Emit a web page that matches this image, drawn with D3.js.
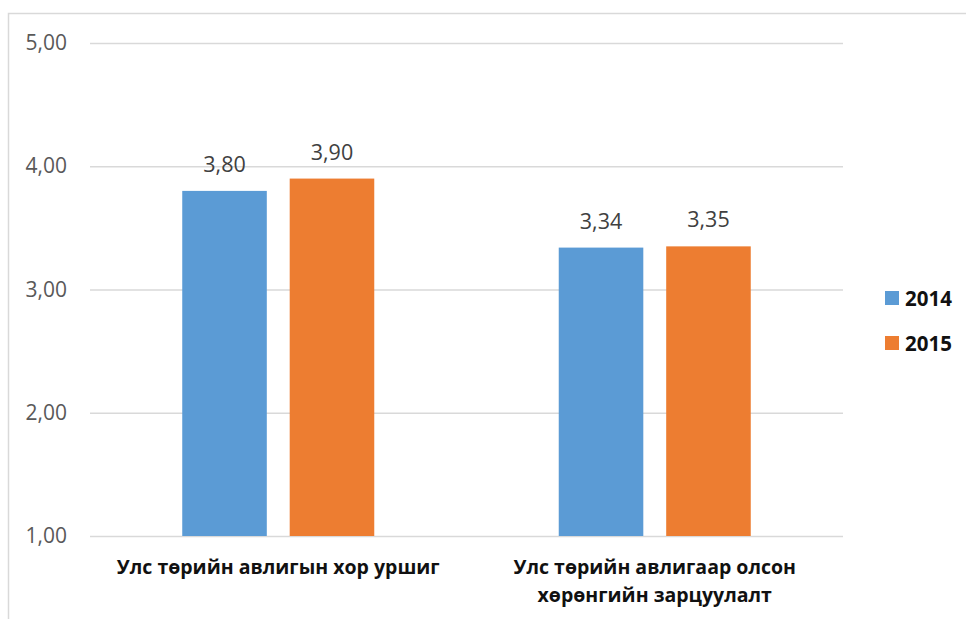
<!DOCTYPE html>
<html>
<head>
<meta charset="utf-8">
<script src="https://cdn.jsdelivr.net/npm/d3@7"></script>
<style>
  body { margin: 0; background: #fff; }
  svg { display: block; font-family: "Open Sans", sans-serif; }
</style>
</head>
<body>
<script>
// chart data
const categories = ["Улс төрийн авлигын хор уршиг", "Улс төрийн авлигаар олсон хөрөнгийн зарцуулалт"];
const years = ["2014", "2015"];
const values2014 = [3.80, 3.34];
const values2015 = [3.90, 3.35];
const yTicks = [1, 2, 3, 4, 5];
const colors = ["#5B9BD5", "#ED7D31"];

const W = 966, H = 619;
const mLeft = 90, mRight = 843, mTop = 43, mBottom = 536;

const svg = d3.select("body").append("svg").attr("width", W).attr("height", H);

// outer border (only top and left visible in the crop)
svg.append("rect")
  .attr("x", 8.5).attr("y", 13.5)
  .attr("width", W + 20).attr("height", H + 20)
  .attr("fill", "none").attr("stroke", "#d9d9d9").attr("stroke-width", 1.5);

const locale = d3.formatLocale({decimal: ",", thousands: " ", grouping: [3], currency: ["", ""]});
const fmt = locale.format(".2f");

const y = d3.scaleLinear().domain([1, 5]).range([mBottom, mTop]);
const x0 = d3.scaleBand().domain(categories).range([mLeft, mRight])
  .paddingInner(0.49).paddingOuter(0.245);
const x1 = d3.scaleBand().domain(years).range([0, x0.bandwidth()]).paddingInner(0.213);

// y axis + gridlines
const yAxis = svg.append("g")
  .attr("transform", `translate(${mLeft},0)`)
  .call(d3.axisLeft(y).tickValues(yTicks).tickFormat(fmt).tickSize(-(mRight - mLeft)).tickPadding(23));
yAxis.select(".domain").remove();
yAxis.selectAll(".tick line").attr("stroke", "#d9d9d9").attr("stroke-width", 1.5);
yAxis.selectAll(".tick text")
  .attr("fill", "#595959").attr("font-size", 21).attr("font-family", "Open Sans, sans-serif");

const rows = categories.map((c, i) => ({cat: c, vals: [values2014[i], values2015[i]]}));

const groups = svg.selectAll(".grp").data(rows).enter().append("g")
  .attr("class", "grp")
  .attr("transform", d => `translate(${x0(d.cat)},0)`);

groups.selectAll("rect").data(d => d.vals.map((v, j) => ({year: years[j], v, j})))
  .enter().append("rect")
  .attr("x", d => x1(d.year))
  .attr("width", x1.bandwidth())
  .attr("y", d => y(d.v))
  .attr("height", d => y(1) - y(d.v))
  .attr("fill", d => colors[d.j]);

groups.selectAll(".lbl").data(d => d.vals.map((v, j) => ({year: years[j], v})))
  .enter().append("text")
  .attr("class", "lbl")
  .attr("x", d => x1(d.year) + x1.bandwidth() / 2)
  .attr("y", d => y(d.v) - 19)
  .attr("text-anchor", "middle")
  .attr("fill", "#404040")
  .attr("font-size", 21.5)
  .text(d => fmt(d.v));

// category labels, wrapped to the band width
const wrapW = 345;
svg.selectAll(".cat").data(categories).enter().append("text")
  .attr("class", "cat")
  .attr("x", d => x0(d) + x0.bandwidth() / 2)
  .attr("y", 574)
  .attr("text-anchor", "middle")
  .attr("font-size", 19.5)
  .attr("font-weight", "bold")
  .attr("fill", "#111")
  .each(function(d) {
    const t = d3.select(this);
    const words = d.split(" ");
    let line = [];
    let ts = t.append("tspan").attr("x", t.attr("x")).attr("dy", 0);
    words.forEach(w => {
      line.push(w);
      ts.text(line.join(" "));
      if (ts.node().getComputedTextLength() > wrapW && line.length > 1) {
        line.pop();
        ts.text(line.join(" "));
        line = [w];
        ts = t.append("tspan").attr("x", t.attr("x")).attr("dy", 28).text(w);
      }
    });
  });

// legend
const legend = svg.selectAll(".leg").data(years).enter().append("g")
  .attr("class", "leg")
  .attr("transform", (d, i) => `translate(885,${291 + i * 45})`);
legend.append("rect").attr("width", 14).attr("height", 14).attr("fill", (d, i) => colors[i]);
legend.append("text")
  .attr("x", 20).attr("y", 14.5)
  .attr("font-size", 20.5).attr("font-weight", "bold").attr("fill", "#111")
  .text(d => d);
</script>
</body>
</html>
